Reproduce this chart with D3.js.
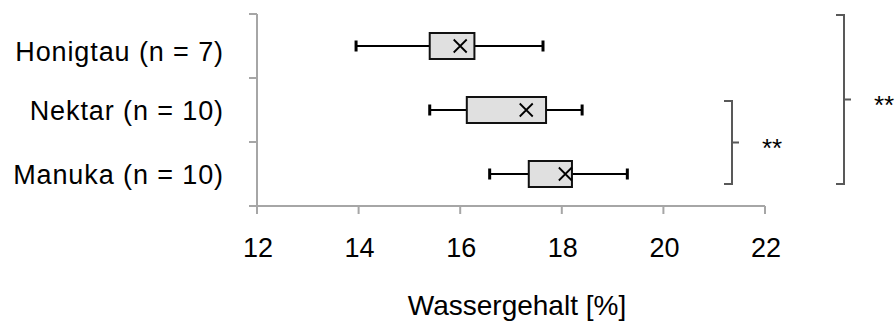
<!DOCTYPE html>
<html>
<head>
<meta charset="utf-8">
<script src="https://cdn.jsdelivr.net/npm/d3@7"></script>
<style>
  body { margin: 0; background: #fff; }
  text { font-family: "Liberation Sans", Arial, sans-serif; fill: #000; }
</style>
</head>
<body>
<div id="chart"></div>
<script>
const categories = ["Honigtau (n = 7)", "Nektar (n = 10)", "Manuka (n = 10)"]
const minValues = [13.95, 15.4, 16.58]
const q1Values = [15.4, 16.13, 17.35]
const q3Values = [16.28, 17.69, 18.2]
const meanValues = [16.0, 17.3, 18.07]
const maxValues = [17.63, 18.4, 19.29]
const xTicks = [12, 14, 16, 18, 20, 22]
const sigLabels = ["**", "**"]

const width = 895
const height = 323

const svg = d3.select("#chart")
  .append("svg")
  .attr("width", width)
  .attr("height", height)

const x = d3.scaleLinear().domain([12, 22]).range([257, 765])
const y = d3.scaleBand().domain(categories).range([14, 206])
const bw = y.bandwidth()
const axisColor = "#a6a6a6"

// axes
svg.append("line")
  .attr("x1", x(12)).attr("x2", x(12))
  .attr("y1", y.range()[0]).attr("y2", y.range()[1])
  .attr("stroke", axisColor).attr("stroke-width", 2)
svg.append("line")
  .attr("x1", x(12) - 1).attr("x2", x(22))
  .attr("y1", y.range()[1]).attr("y2", y.range()[1])
  .attr("stroke", axisColor).attr("stroke-width", 2)

const yTickPos = categories.map(c => y(c)).concat([y.range()[1]])
svg.selectAll(".ytick").data(yTickPos).enter().append("line")
  .attr("x1", x(12) - 8).attr("x2", x(12))
  .attr("y1", d => d).attr("y2", d => d)
  .attr("stroke", axisColor).attr("stroke-width", 2)

svg.selectAll(".xtick").data(xTicks).enter().append("line")
  .attr("x1", d => x(d)).attr("x2", d => x(d))
  .attr("y1", y.range()[1]).attr("y2", y.range()[1] + 8)
  .attr("stroke", axisColor).attr("stroke-width", 2)

svg.selectAll(".xlabel").data(xTicks).enter().append("text")
  .attr("x", d => x(d) + 1)
  .attr("y", 257)
  .attr("text-anchor", "middle")
  .attr("font-size", 27)
  .text(d => d)

// label baselines sit a bit below the band centre, the first one a bit more
const labelShift = [15, 10, 10]
svg.selectAll(".ylabel").data(categories).enter().append("text")
  .attr("x", 224)
  .attr("y", (d, i) => y(d) + bw / 2 + labelShift[i])
  .attr("text-anchor", "end")
  .attr("font-size", 27)
  .attr("letter-spacing", 0.9)
  .text(d => d)

svg.append("text")
  .attr("x", 517)
  .attr("y", 315)
  .attr("text-anchor", "middle")
  .attr("font-size", 28)
  .text("Wassergehalt [%]")

// boxes
const rows = categories.map((c, i) => ({
  cat: c, min: minValues[i], q1: q1Values[i], q3: q3Values[i], mean: meanValues[i], max: maxValues[i]
}))
const boxH = 26
const g = svg.selectAll(".box").data(rows).enter().append("g")
  .attr("transform", d => `translate(0,${y(d.cat) + bw / 2})`)

g.append("line")
  .attr("x1", d => x(d.min)).attr("x2", d => x(d.q1))
  .attr("stroke", "#000").attr("stroke-width", 2)
g.append("line")
  .attr("x1", d => x(d.q3)).attr("x2", d => x(d.max))
  .attr("stroke", "#000").attr("stroke-width", 2)
g.append("line")
  .attr("x1", d => x(d.min)).attr("x2", d => x(d.min))
  .attr("y1", -5.5).attr("y2", 5.5)
  .attr("stroke", "#000").attr("stroke-width", 3)
g.append("line")
  .attr("x1", d => x(d.max)).attr("x2", d => x(d.max))
  .attr("y1", -5.5).attr("y2", 5.5)
  .attr("stroke", "#000").attr("stroke-width", 3)
g.append("rect")
  .attr("x", d => x(d.q1))
  .attr("y", -boxH / 2)
  .attr("width", d => x(d.q3) - x(d.q1))
  .attr("height", boxH)
  .attr("fill", "#e0e0e0")
  .attr("stroke", "#111").attr("stroke-width", 2)
const m = 6.5
g.append("path")
  .attr("d", d => `M${x(d.mean) - m},${-m}L${x(d.mean) + m},${m}M${x(d.mean) - m},${m}L${x(d.mean) + m},${-m}`)
  .attr("stroke", "#000").attr("stroke-width", 1.8).attr("fill", "none")

// significance brackets
const brackets = [
  { x: 732, top: y(categories[1]) + 23, bottom: y(categories[2]) + 42, label: sigLabels[0] },
  { x: 844, top: y(categories[0]) + 1, bottom: y(categories[2]) + 42, label: sigLabels[1] }
]
brackets.forEach(b => {
  const mid = (b.top + b.bottom) / 2
  svg.append("path")
    .attr("d", `M${b.x - 8},${b.top}H${b.x}V${b.bottom}H${b.x - 8}M${b.x},${mid}H${b.x + 7}`)
    .attr("fill", "none").attr("stroke", "#595959").attr("stroke-width", 2)
  svg.append("text")
    .attr("x", b.x + 30)
    .attr("y", mid + 14)
    .attr("font-size", 26)
    .text(b.label)
})
</script>
</body>
</html>
